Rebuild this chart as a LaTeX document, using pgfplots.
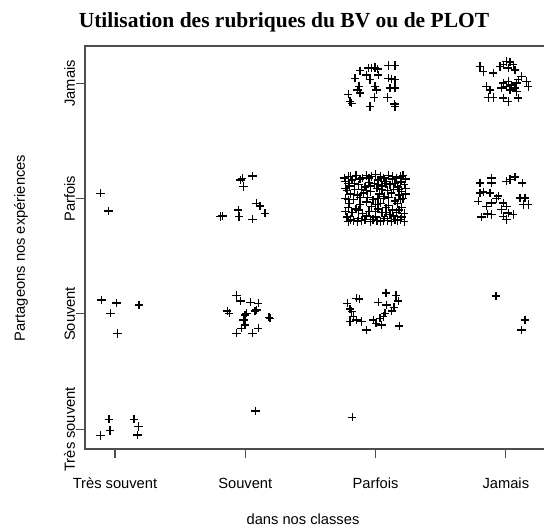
\documentclass[border=0pt]{standalone}
\usepackage{pgfplots}
\pgfplotsset{compat=1.18}
\usepackage{fontspec}
\setmainfont{Liberation Sans}
\newfontfamily\titlefont{Liberation Serif}
\definecolor{framegray}{HTML}{4D4D4D}

\begin{document}
\begin{tikzpicture}
\begin{axis}[
  scale only axis, width=465bp, height=403bp,
  xmin=0.770, xmax=4.339, ymin=0.829, ymax=4.323,
  xtick={1,2,3,4}, ytick={1,2,3,4},
  xticklabels={Très souvent, Souvent, Parfois, Jamais},
  yticklabels={Très souvent, Souvent, Parfois, Jamais},
  tick pos=left, tick align=outside, major tick length=9bp,
  axis line style={framegray, line width=1.1bp},
  every tick/.style={framegray, line width=1.1bp},
  ticklabel style={font=\fontsize{14.7bp}{17bp}\selectfont},
  xticklabel style={anchor=base, yshift=-30bp},
  yticklabel style={xshift=-1bp, rotate=90, anchor=base},
]
\coordinate (sw) at (rel axis cs:0,0);
\addplot[only marks, mark=+, mark size=4.2bp, mark options={line width=1.35bp, black}] table {
x y
0.954 1.087
0.890 0.945
0.962 0.988
1.146 1.087
1.182 1.023
1.172 0.951
2.079 1.159
2.821 1.104
0.897 2.121
1.013 2.095
1.185 2.078
0.967 2.006
1.018 1.832
0.890 3.046
0.949 2.893
1.977 3.177
2.057 3.197
1.985 3.104
1.811 2.844
1.826 2.850
1.946 2.902
1.952 2.844
2.057 2.821
2.087 2.960
2.113 2.937
2.151 2.873
1.964 3.162
1.934 2.159
1.965 2.113
2.041 2.101
2.100 2.093
1.862 2.026
1.877 2.006
2.010 2.006
2.074 2.026
2.087 2.035
2.182 1.971
2.190 1.963
1.985 1.948
1.998 1.905
1.972 1.876
2.100 1.876
1.934 1.833
2.057 1.833
1.998 1.991
2.783 2.093
2.804 2.043
2.817 2.020
2.855 2.136
2.875 2.130
3.080 2.180
3.157 2.159
3.174 2.113
3.021 2.101
3.085 2.078
3.141 2.055
3.124 2.026
3.072 2.006
3.059 1.977
3.034 1.963
2.829 1.977
2.855 1.948
2.893 1.933
2.982 1.948
3.003 1.919
3.047 1.905
2.932 1.861
3.182 1.896
2.804 1.933
3.924 2.156
4.147 1.948
4.121 1.861
2.880 4.108
2.842 4.044
2.944 4.131
2.970 4.131
2.995 4.136
3.016 4.125
3.021 4.073
3.097 4.154
3.149 4.154
2.932 4.073
2.957 4.030
3.097 4.044
3.124 4.038
3.149 4.030
2.873 3.971
2.862 3.943
2.995 3.971
3.008 3.943
3.111 3.958
3.149 3.958
2.790 3.905
2.880 3.914
2.804 3.841
2.817 3.827
2.990 3.876
3.093 3.876
2.957 3.798
3.144 3.819
3.149 3.798
3.801 4.145
3.827 4.101
3.903 4.088
3.955 4.145
3.980 4.160
4.006 4.188
4.031 4.183
4.057 4.160
4.070 4.116
4.018 4.131
4.121 4.058
4.095 4.030
4.160 4.015
4.172 3.971
3.980 4.001
4.018 4.015
4.044 3.986
4.070 3.958
4.083 4.001
3.968 3.958
4.031 3.943
3.853 3.971
3.878 3.943
3.903 3.876
3.865 3.876
3.980 3.871
4.018 3.841
4.095 3.871
4.083 3.929
4.006 3.971
3.801 3.136
3.891 3.180
3.891 3.136
4.006 3.151
4.031 3.165
4.070 3.186
4.126 3.136
3.801 3.049
3.827 3.058
3.878 3.049
3.942 3.021
3.929 3.000
3.788 2.977
3.891 2.963
3.853 2.934
3.980 2.963
4.006 2.934
4.108 3.006
4.147 3.006
4.134 2.948
4.172 2.948
3.968 2.905
4.018 2.876
3.814 2.839
3.860 2.867
3.891 2.861
3.980 2.847
4.006 2.818
4.057 2.861
2.79 3.19
2.85 3.20
2.90 3.18
2.93 3.20
2.97 3.19
3.00 3.21
3.04 3.19
3.10 3.20
3.16 3.18
3.21 3.20
3.23 3.17
2.77 3.15
2.82 3.16
2.95 3.14
3.02 3.16
3.07 3.15
3.13 3.17
3.19 3.14
2.80 3.11
2.87 3.12
2.92 3.10
2.99 3.13
3.05 3.11
3.11 3.12
3.17 3.10
3.22 3.12
2.78 3.07
2.84 3.08
2.96 3.06
3.01 3.09
3.09 3.07
3.14 3.08
3.20 3.06
2.81 3.04
2.86 3.03
2.91 3.05
3.03 3.04
3.07 3.02
3.12 3.05
3.18 3.03
3.23 3.04
2.77 3.00
2.83 2.99
2.94 3.01
2.98 2.99
3.06 3.00
3.15 2.98
3.21 3.00
2.80 2.96
2.88 2.95
2.93 2.97
3.00 2.95
3.04 2.96
3.10 2.94
3.17 2.96
2.79 2.92
2.85 2.91
2.97 2.93
3.02 2.91
3.08 2.92
3.13 2.90
3.20 2.92
2.82 2.88
2.90 2.87
2.95 2.89
3.05 2.88
3.11 2.86
3.16 2.88
3.22 2.87
2.78 2.84
2.87 2.83
2.93 2.85
3.00 2.84
3.07 2.83
3.14 2.85
3.19 2.82
2.79 2.80
2.83 2.81
2.86 2.80
2.89 2.81
2.96 2.80
3.01 2.81
3.04 2.80
3.09 2.81
3.12 2.80
3.17 2.81
3.22 2.80
2.76 3.18
2.81 3.19
2.88 3.17
2.95 3.18
3.06 3.18
3.13 3.19
3.19 3.19
2.79 3.13
2.84 3.13
2.96 3.11
3.02 3.12
3.08 3.13
3.15 3.13
3.20 3.15
2.77 3.09
2.89 3.08
2.93 3.07
3.05 3.08
3.18 3.08
3.23 3.09
2.79 2.99
2.88 3.01
3.02 3.00
3.10 3.01
3.19 2.99
2.77 2.89
2.87 2.90
3.00 2.89
3.08 2.88
3.18 2.90
2.81 2.82
2.92 2.82
2.98 2.82
3.06 2.81
3.15 2.82
3.20 2.84
};
\end{axis}
\node[anchor=base, font=\titlefont\bfseries\fontsize{21.5bp}{25bp}\selectfont] at ([shift={(199bp,421bp)}]sw) {Utilisation des rubriques du BV ou de PLOT};
\node[anchor=base, font=\fontsize{14.7bp}{17bp}\selectfont] at ([shift={(218bp,-75bp)}]sw) {dans nos classes};
\node[anchor=base, rotate=90, font=\fontsize{14.7bp}{17bp}\selectfont] at ([shift={(-60bp,201bp)}]sw) {Partageons nos expériences};
\pgfresetboundingbox
\path[use as bounding box] ([shift={(-85bp,-79bp)}]sw) rectangle ([shift={(459bp,449bp)}]sw);
\end{tikzpicture}
\end{document}
